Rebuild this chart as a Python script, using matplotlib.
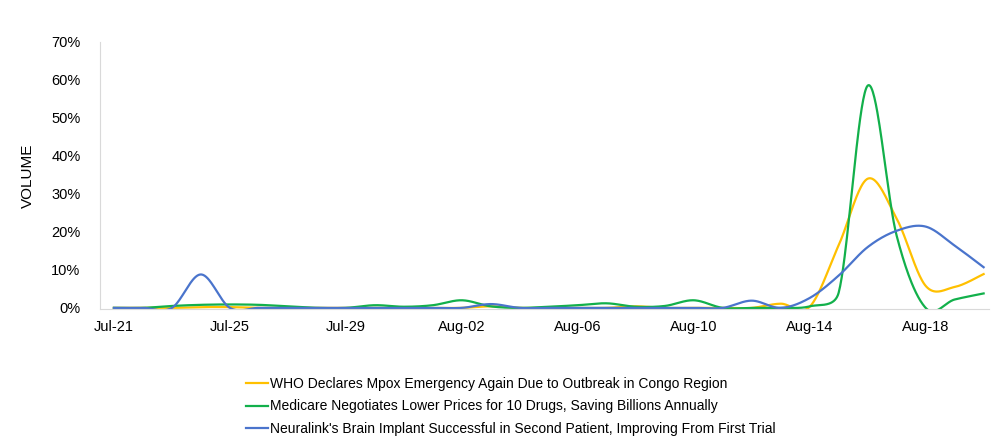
import numpy as np
import matplotlib.pyplot as plt
from matplotlib.ticker import PercentFormatter

plt.rcParams['font.family'] = ['Liberation Sans', 'DejaVu Sans']

# daily dates, Jul-21 .. Aug-20
dates = ['Jul-21', 'Jul-22', 'Jul-23', 'Jul-24', 'Jul-25', 'Jul-26', 'Jul-27', 'Jul-28',
         'Jul-29', 'Jul-30', 'Jul-31', 'Aug-01', 'Aug-02', 'Aug-03', 'Aug-04', 'Aug-05',
         'Aug-06', 'Aug-07', 'Aug-08', 'Aug-09', 'Aug-10', 'Aug-11', 'Aug-12', 'Aug-13',
         'Aug-14', 'Aug-15', 'Aug-16', 'Aug-17', 'Aug-18', 'Aug-19', 'Aug-20']

mpox = [0, 0, 0, 0.002, 0.002, 0, 0, 0, 0, 0, 0, 0, 0, 0.004, 0, 0,
        0, 0, 0.004, 0, 0, 0, 0, 0.011, 0.003, 0.165, 0.34, 0.235, 0.058, 0.055, 0.089]
medicare = [0, 0, 0.005, 0.008, 0.009, 0.008, 0.004, 0, 0, 0.007, 0.003, 0.007, 0.02, 0.004,
            0, 0.003, 0.007, 0.012, 0.003, 0.005, 0.02, 0, 0, 0, 0.004, 0.04, 0.585, 0.19,
            0, 0.022, 0.038]
neuralink = [0, 0, 0, 0.088, 0, 0, 0, 0, 0, 0, 0, 0, 0, 0.01, 0, 0,
             0, 0, 0, 0, 0, 0, 0.019, 0, 0.026, 0.085, 0.16, 0.203, 0.214, 0.164, 0.107]

labels = ['WHO Declares Mpox Emergency Again Due to Outbreak in Congo Region',
          'Medicare Negotiates Lower Prices for 10 Drugs, Saving Billions Annually',
          "Neuralink's Brain Implant Successful in Second Patient, Improving From First Trial"]
colors = ['#FFC000', '#12B04B', '#4A74CC']


def smooth(y, sx=29.0, sy=381.0, n=40):
    """Excel-like smoothed line: catmull-rom bezier, control arms capped to half the segment"""
    P = np.column_stack([np.arange(len(y)) * sx, np.asarray(y, dtype=float) * sy])
    N = len(P)
    out = [P[:1]]
    for i in range(N - 1):
        p0 = P[i - 1] if i > 0 else P[i]
        p1, p2 = P[i], P[i + 1]
        p3 = P[i + 2] if i + 2 < N else P[i + 1]
        chord = np.linalg.norm(p2 - p1)
        a1 = (p2 - p0) / 6.0
        a2 = (p3 - p1) / 6.0
        for a in (a1, a2):
            L = np.linalg.norm(a)
            if L > 0.5 * chord:
                a *= 0.5 * chord / L
        c1, c2 = p1 + a1, p2 - a2
        t = np.linspace(0, 1, n)[1:, None]
        seg = ((1 - t) ** 3) * p1 + 3 * ((1 - t) ** 2) * t * c1 + 3 * (1 - t) * t ** 2 * c2 + t ** 3 * p2
        out.append(seg)
    pts = np.vstack(out)
    return pts[:, 0] / sx, pts[:, 1] / sy


fig = plt.figure(figsize=(10.05, 4.41), dpi=100)
ax = fig.add_axes([0.0995, 0.2993, 0.885, 0.6055])

for series, lab, col in zip([mpox, medicare, neuralink], labels, colors):
    xs, ys = smooth(series)
    ax.plot(xs, ys, color=col, linewidth=1.6, label=lab)

ax.set_xlim(-0.48, 30.2)
ax.set_ylim(-0.003, 0.70)
ax.set_yticks(np.arange(0, 0.71, 0.1))
ax.yaxis.set_major_formatter(PercentFormatter(1.0, decimals=0))
ax.set_xticks(range(0, len(dates), 4))
ax.set_xticklabels(dates[::4])
ax.tick_params(axis='both', length=0, labelsize=10.5, colors='#000000')
ax.tick_params(axis='y', pad=14)
ax.tick_params(axis='x', pad=8)
ax.set_ylabel('VOLUME', fontsize=11, labelpad=12)

for s in ['top', 'right']:
    ax.spines[s].set_visible(False)
ax.spines['left'].set_color('#D9D9D9')
ax.spines['bottom'].set_color('#D9D9D9')

fig.legend(loc='upper left', bbox_to_anchor=(0.245, 0.145), frameon=False,
           fontsize=10, handlelength=1.6, handletextpad=0.1, labelspacing=0.6,
           borderaxespad=0, borderpad=0)

fig.savefig('out.png', dpi=100)
